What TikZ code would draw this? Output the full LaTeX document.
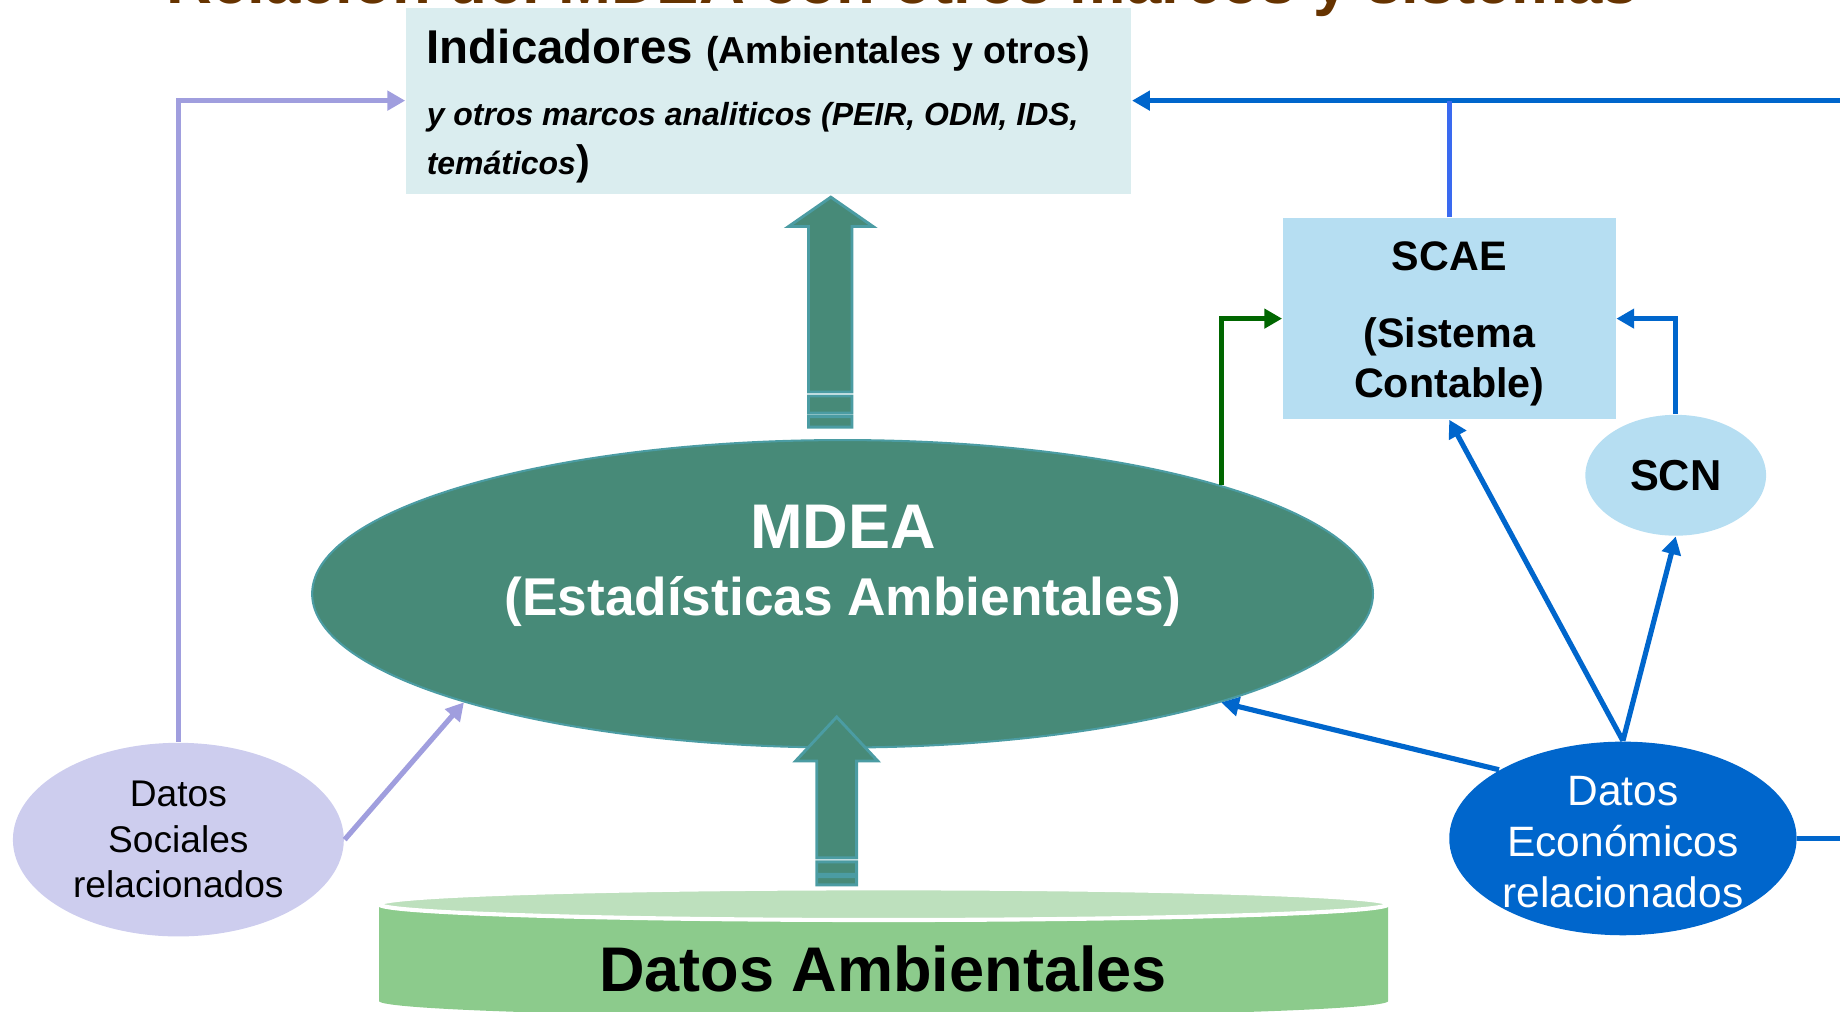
\documentclass[tikz,border=0pt]{standalone}
\usepackage{fontspec}
\setmainfont{Liberation Sans}
\usetikzlibrary{arrows.meta,shapes.geometric}

\definecolor{mdeagreen}{HTML}{478A78}
\definecolor{mdeaedge}{HTML}{4B9CA3}
\definecolor{indbg}{HTML}{DAEDEF}
\definecolor{scaeblue}{HTML}{B6DEF2}
\definecolor{socfill}{HTML}{CDCDEE}
\definecolor{socline}{HTML}{A09EDE}
\definecolor{econblue}{HTML}{0066CC}
\definecolor{scaeline}{HTML}{3A6AF0}
\definecolor{darkgreen}{HTML}{006600}
\definecolor{cyltop}{HTML}{BDE0BD}
\definecolor{cylbody}{HTML}{8CCB8C}
\definecolor{titlebrown}{HTML}{663300}

%% block arrows (MDEA -> Indicadores, Datos -> MDEA)
\def\upperarrow{(6.89,5.28) -- (6.89,6.69) -- (6.72,6.69) -- (7.08,6.94) -- (7.44,6.69) -- (7.26,6.69) -- (7.26,5.28) -- cycle}
\def\upperstripes{(6.89,5.10) rectangle (7.26,5.245) (6.89,4.98) rectangle (7.26,5.07)}
\def\lowerarrow{(6.96,1.31) -- (6.96,2.135) -- (6.78,2.135) -- (7.13,2.51) -- (7.48,2.135) -- (7.30,2.135) -- (7.30,1.31) -- cycle}
\def\lowerstripes{(6.96,1.17) rectangle (7.30,1.275) (6.96,1.08) rectangle (7.30,1.15)}

\tikzset{
  link/.style={line width=1.25pt, -{Triangle[length=4.3pt,width=4.6pt]}},
  blockarrow/.style={fill=mdeagreen, draw=mdeaedge, line width=0.7pt},
  indbox/.style={rectangle, fill=indbg, minimum width=6.18cm, minimum height=1.585cm, inner sep=0},
  indtext/.style={anchor=base west, inner sep=0, font=\bfseries},
  scbox/.style={rectangle, fill=scaeblue, minimum width=2.835cm, minimum height=1.71cm, inner sep=0,
    align=center, font=\bfseries\fontsize{10}{12.1}\selectfont},
  scn/.style={ellipse, fill=scaeblue, minimum width=1.54cm, minimum height=1.03cm, inner sep=0,
    font=\bfseries\fontsize{10.5}{12}\selectfont},
  mdea/.style={ellipse, fill=mdeagreen, draw=mdeaedge, line width=0.5pt, minimum width=9.04cm,
    minimum height=2.62cm, inner sep=0},
  mdeatext/.style={align=center, text=white, inner sep=0, font=\bfseries\fontsize{12.9}{16.2}\selectfont},
  soc/.style={ellipse, fill=socfill, minimum width=2.82cm, minimum height=1.65cm, inner sep=0,
    align=center, font=\fontsize{9}{11}\selectfont},
  econ/.style={ellipse, fill=econblue, text=white, minimum width=2.96cm, minimum height=1.65cm,
    inner xsep=0, inner ysep=-1.5pt, align=center, font=\fontsize{10.3}{12.4}\selectfont}
}

\begin{document}
\begin{tikzpicture}
    \useasboundingbox (0,0) rectangle (15.68,8.62);

    %% Title (cut by the top edge)
    \node[anchor=base, inner sep=0, text=titlebrown, font=\bfseries\fontsize{15.4}{18}\selectfont]
        (title) at (7.69,8.592) {Relación del MDEA con otros marcos y sistemas};

    %% Datos Ambientales
    \fill[cylbody] (3.23,0.915) -- (3.23,0.09) arc[start angle=180, end angle=360, x radius=4.30, y radius=0.135] -- (11.83,0.915) -- cycle;
    \filldraw[fill=cyltop, draw=white, line width=1pt] (7.53,0.915) ellipse [x radius=4.30, y radius=0.135];
    \node[anchor=base, inner sep=0, font=\bfseries\fontsize{15.3}{18}\selectfont] (datamb) at (7.525,0.17) {Datos Ambientales};

    %% Indicadores
    \node[indbox] (indic) at (6.55,7.7625) {};
    \node[indtext] (indA) at (3.63,8.08) {\fontsize{11.5}{13}\selectfont Indicadores {\fontsize{9.1}{11}\selectfont (Ambientales y otros)}};
    \node[indtext] (indB) at (3.63,7.55) {\itshape\fontsize{7.75}{9}\selectfont y otros marcos analiticos (PEIR, ODM, IDS,};
    \node[indtext] (indC) at (3.63,7.135) {\itshape\fontsize{7.75}{9}\selectfont temáticos{\upshape\fontsize{10}{12}\selectfont)}};

    %% MDEA and the systems
    \node[mdea] (mdea) at (7.18,3.56) {};
    \node[mdeatext] (mdeaText) at (7.185,3.80) {{\fontsize{15.3}{16.2}\selectfont MDEA}\\(Estadísticas Ambientales)};
    \node[scbox] (scae) at (12.35,5.905) {\rule{0pt}{9.6pt}SCAE\\[6.5pt](Sistema\\Contable)};
    \node[scn] (scn) at (14.28,4.57) {SCN};
    \node[soc] (soc) at (1.52,1.465) {Datos\\Sociales\\relacionados};
    \node[econ] (econ) at (13.83,1.475) {\rule{0pt}{9pt}Datos\\Económicos\\relacionados};

    %% Block arrows
    \filldraw[blockarrow] \upperarrow \upperstripes;
    \filldraw[blockarrow] \lowerarrow \lowerstripes;

    %% Links
    \draw[link, socline] (soc.north) |- (indic.west);
    \draw[link, socline] (soc.east) -- (mdea.196.5);
    \draw[link, econblue] (econ.east) -- ++(0.6,0) |- (indic.east);
    \draw[line width=1.25pt, scaeline] (scae.north) -- (scae.north |- indic.east);
    \draw[link, econblue] (econ.north) -- (scae.south);
    \draw[link, econblue] (econ.north) -- (scn.south);
    \draw[link, econblue] (econ.151) -- (mdea.344);
    \draw[link, econblue] (scn.north) |- (scae.east);
    \draw[link, darkgreen] (mdea.16.2) |- (scae.west);
\end{tikzpicture}
\end{document}
